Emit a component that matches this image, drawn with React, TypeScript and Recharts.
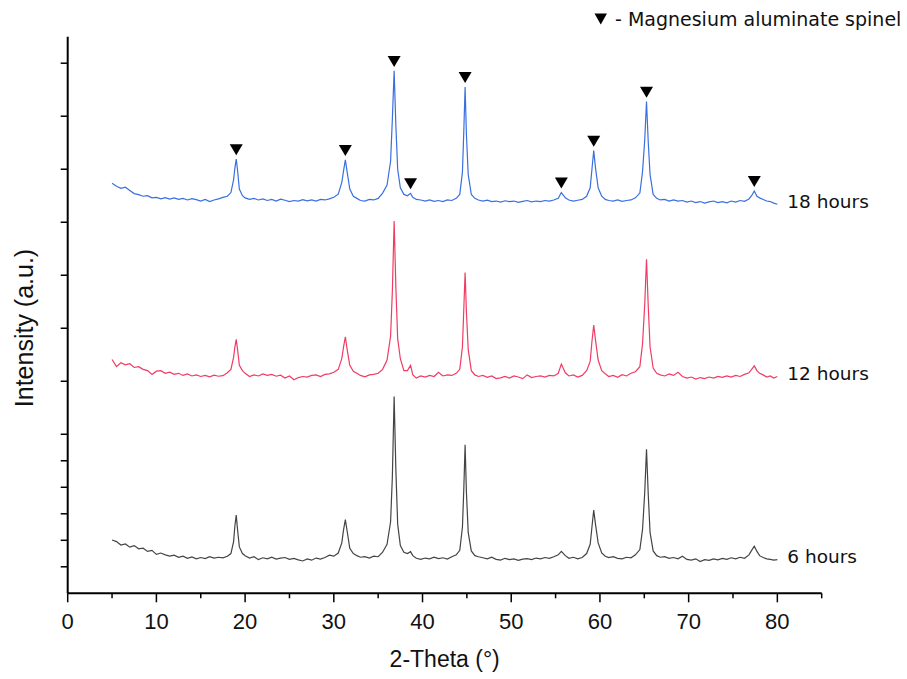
import React from 'react';
import { ComposedChart, Line, Scatter, XAxis, YAxis, LabelList } from 'recharts';

// 2-theta sampling (denser around the reflections)
const twoTheta = [
  5.0, 5.5, 6.0, 6.5, 7.0, 7.5, 8.0, 8.5, 9.0, 9.5, 10.0, 10.5, 11.0, 11.5, 12.0, 12.5, 13.0, 13.5, 14.0, 14.5, 15.0, 15.5, 16.0, 16.5, 17.0, 17.5, 18.0,
  18.4, 18.7, 18.85, 19.0, 19.15, 19.35, 19.7, 20.0,
  20.5, 21.0, 21.5, 22.0, 22.5, 23.0, 23.5, 24.0, 24.5, 25.0, 25.5, 26.0, 26.5, 27.0, 27.5, 28.0, 28.5, 29.0, 29.5, 30.0,
  30.5, 30.9, 31.1, 31.3, 31.5, 31.8, 32.2,
  32.6, 33.0, 33.5, 34.0, 34.5, 35.0, 35.5,
  36.0, 36.4, 36.6, 36.8, 37.0, 37.2, 37.5, 37.9,
  38.3, 38.65, 38.9,
  39.3, 39.8, 40.3, 40.8, 41.3, 41.8, 42.3, 42.8, 43.3, 43.8,
  44.2, 44.5, 44.65, 44.8, 44.95, 45.15, 45.5, 45.9,
  46.3, 46.8, 47.3, 47.8, 48.3, 48.8, 49.3, 49.8, 50.3, 50.8, 51.3, 51.8, 52.3, 52.8, 53.3, 53.8, 54.3, 54.8, 55.3,
  55.65, 56.1,
  56.5, 57.0, 57.5, 58.0, 58.5,
  58.9, 59.1, 59.3, 59.5, 59.8, 60.2,
  60.6, 61.0, 61.5, 62.0, 62.5, 63.0, 63.5, 64.0,
  64.5, 64.8, 65.05, 65.25, 65.45, 65.65, 66.0, 66.4,
  66.8, 67.3, 67.8, 68.3, 68.8, 69.3, 69.8, 70.3, 70.8, 71.3, 71.8, 72.3, 72.8, 73.3, 73.8, 74.3, 74.8, 75.3, 75.8, 76.3, 76.8,
  77.1, 77.4, 77.7, 78.0,
  78.4, 78.8, 79.2, 79.6, 80.0,
];

// stacked intensities (a.u., already offset)
const hours6 = [
  2.01, 1.95, 1.82, 1.86, 1.74, 1.80, 1.68, 1.70, 1.58, 1.62, 1.47, 1.52, 1.45, 1.40, 1.44, 1.36, 1.40, 1.32, 1.37, 1.30, 1.35, 1.31, 1.38, 1.33, 1.36, 1.34, 1.40,
  1.50, 1.95, 2.55, 2.95, 2.40, 1.75, 1.50, 1.42,
  1.33, 1.38, 1.27, 1.34, 1.30, 1.36, 1.29, 1.33, 1.35, 1.28, 1.32, 1.26, 1.22, 1.30, 1.25, 1.33, 1.29, 1.35, 1.44, 1.40,
  1.52, 1.90, 2.40, 2.78, 2.35, 1.70, 1.50,
  1.42, 1.36, 1.38, 1.33, 1.40, 1.38, 1.55,
  1.85, 2.70, 4.40, 7.42, 4.60, 2.60, 1.80, 1.55,
  1.50, 1.57, 1.42,
  1.32, 1.28, 1.33, 1.30, 1.36, 1.31, 1.34, 1.29, 1.38, 1.45,
  1.62, 2.50, 3.90, 5.60, 3.80, 2.30, 1.60, 1.42,
  1.38, 1.34, 1.30, 1.36, 1.28, 1.25, 1.32, 1.27, 1.30, 1.24, 1.29, 1.31, 1.27, 1.33, 1.30, 1.35, 1.32, 1.38, 1.45,
  1.58, 1.42,
  1.32, 1.36, 1.30, 1.35, 1.50,
  1.85, 2.50, 3.14, 2.60, 1.90, 1.52,
  1.40, 1.35, 1.38, 1.32, 1.30, 1.36, 1.34, 1.45,
  1.65, 2.40, 3.80, 5.43, 3.70, 2.30, 1.60, 1.42,
  1.36, 1.38, 1.32, 1.35, 1.30, 1.40, 1.28, 1.25, 1.30, 1.20, 1.27, 1.24, 1.30, 1.26, 1.32, 1.28, 1.34, 1.30, 1.36, 1.32, 1.45,
  1.62, 1.78, 1.58, 1.42,
  1.35, 1.30, 1.28, 1.25, 1.27,
];

const hours12 = [
  8.82, 8.55, 8.70, 8.62, 8.66, 8.52, 8.55, 8.45, 8.40, 8.26, 8.38, 8.40, 8.30, 8.34, 8.26, 8.30, 8.22, 8.28, 8.20, 8.24, 8.18, 8.22, 8.17, 8.23, 8.19, 8.21, 8.32,
  8.45, 8.90, 9.30, 9.58, 9.20, 8.60, 8.40, 8.30,
  8.18, 8.24, 8.20, 8.28, 8.22, 8.26, 8.19, 8.23, 8.12, 8.20, 8.06, 8.14, 8.18, 8.16, 8.22, 8.24, 8.18, 8.26, 8.28, 8.34,
  8.45, 8.85, 9.30, 9.68, 9.20, 8.60, 8.38,
  8.30, 8.22, 8.17, 8.24, 8.26, 8.30, 8.45,
  8.80, 9.70, 11.40, 14.05, 11.50, 9.60, 8.85, 8.40,
  8.40, 8.60, 8.25,
  8.12, 8.20, 8.16, 8.22, 8.18, 8.34, 8.20, 8.24, 8.22, 8.30,
  8.45, 9.30, 10.70, 12.10, 10.60, 9.20, 8.40, 8.24,
  8.18, 8.22, 8.15, 8.20, 8.10, 8.13, 8.18, 8.12, 8.20, 8.16, 8.10, 8.24, 8.14, 8.18, 8.20, 8.16, 8.22, 8.20, 8.30,
  8.65, 8.32,
  8.20, 8.24, 8.16, 8.22, 8.40,
  8.75, 9.50, 10.12, 9.55, 8.80, 8.40,
  8.28, 8.18, 8.22, 8.15, 8.25, 8.20, 8.30, 8.36,
  8.55, 9.40, 10.90, 12.60, 10.80, 9.30, 8.50, 8.30,
  8.24, 8.20, 8.28, 8.22, 8.34, 8.18, 8.12, 8.16, 8.08, 8.14, 8.10, 8.16, 8.12, 8.18, 8.15, 8.20, 8.16, 8.22, 8.18, 8.26, 8.32,
  8.45, 8.58, 8.40, 8.30,
  8.24, 8.16, 8.20, 8.12, 8.18,
];

const hours18 = [
  15.47, 15.36, 15.28, 15.32, 15.20, 15.08, 15.04, 14.98, 15.00, 14.92, 14.94, 14.88, 14.93, 14.87, 14.92, 14.86, 14.90, 14.84, 14.89, 14.85, 14.80, 14.86, 14.78, 14.84, 14.88, 14.94, 14.98,
  15.12, 15.60, 16.05, 16.38, 15.95, 15.25, 15.00, 14.92,
  14.86, 14.90, 14.84, 14.88, 14.82, 14.86, 14.80, 14.87, 14.83, 14.78, 14.82, 14.80, 14.85, 14.81, 14.84, 14.80, 14.86, 14.84, 14.88, 14.94,
  15.06, 15.50, 15.95, 16.35, 15.90, 15.25, 14.98,
  14.90, 14.82, 14.80, 14.86, 14.84, 14.90, 15.10,
  15.40, 16.30, 17.90, 19.71, 17.60, 16.00, 15.30, 15.05,
  15.00, 15.09, 14.94,
  14.86, 14.84, 14.80, 14.84, 14.79, 14.82, 14.78, 14.84, 14.82, 14.90,
  15.05, 15.90, 17.40, 19.10, 17.30, 15.80, 15.05, 14.90,
  14.84, 14.80, 14.83, 14.78, 14.80, 14.76, 14.81, 14.78, 14.80, 14.75, 14.79, 14.82, 14.77, 14.80, 14.78, 14.82, 14.80, 14.84, 14.90,
  15.12, 14.92,
  14.84, 14.80, 14.83, 14.86, 14.98,
  15.30, 16.00, 16.70, 16.05, 15.30, 14.98,
  14.86, 14.82, 14.80, 14.84, 14.79, 14.82, 14.84, 14.92,
  15.10, 15.90, 17.10, 18.55, 17.00, 15.80, 15.05, 14.90,
  14.84, 14.86, 14.80, 14.84, 14.80, 14.82, 14.76, 14.80, 14.74, 14.78, 14.72, 14.77, 14.80, 14.74, 14.78, 14.73, 14.80, 14.76, 14.82, 14.79, 14.88,
  15.00, 15.18, 14.98, 14.92,
  14.86, 14.80, 14.78, 14.72, 14.68,
];

// spinel reflections marked on the 18 h pattern
const spinelPeaks = [19.0, 31.3, 36.8, 38.65, 44.8, 55.65, 59.3, 65.25, 77.4];
const spinelHeights = [16.38, 16.35, 19.71, 15.09, 19.1, 15.12, 16.7, 18.55, 15.18];

const xTicks = [0, 5, 10, 15, 20, 25, 30, 35, 40, 45, 50, 55, 60, 65, 70, 75, 80, 85];
const yTicks = [1, 2, 3, 4, 5, 6, 8, 10, 12, 14, 16, 18, 20];

const rows = twoTheta.map((x, i) => ({ x, h6: hours6[i], h12: hours12[i], h18: hours18[i] }));
const markers = spinelPeaks.map((x, i) => ({ x, y: spinelHeights[i] }));

const axisFont = '"Liberation Sans", Arial, sans-serif';
const noteFont = '"DejaVu Sans", sans-serif';

const XTick = (props: any) => {
  const { x, y, payload } = props;
  const v = payload.value;
  const major = v % 10 === 0;
  return (
    <g>
      <line x1={x} x2={x} y1={y} y2={y + (major ? 9 : 5)} stroke="#000" strokeWidth={1.5} />
      {major && (
        <text x={x} y={y + 36} textAnchor="middle" fontSize={22} fontFamily={axisFont} fill="#111">
          {v}
        </text>
      )}
    </g>
  );
};

const YTick = (props: any) => {
  const { x, y } = props;
  return <line x1={x - 7} x2={x} y1={y} y2={y} stroke="#000" strokeWidth={1.5} />;
};

const YTitle = (props: any) => {
  const vb = props.viewBox || {};
  const cx = 24;
  const cy = (vb.y ?? 36.7) + (vb.height ?? 556.6) / 2 + 13;
  return (
    <text
      x={cx}
      y={cy}
      transform={`rotate(-90 ${cx} ${cy})`}
      textAnchor="middle"
      dominantBaseline="central"
      fontSize={25}
      fontFamily={axisFont}
      fill="#111"
    >
      Intensity (a.u.)
    </text>
  );
};

const Triangle = (props: any) => {
  const { cx, cy } = props;
  const top = cy - 15;
  return <path d={`M${cx - 6.5},${top} L${cx + 6.5},${top} L${cx},${top + 11} Z`} fill="#000" />;
};

const endLabel = (text: string) => (p: any) =>
  p.index === twoTheta.length - 1 ? (
    <text x={p.x + 10} y={p.y - 3} dominantBaseline="central" fontSize={18.5} fontFamily={noteFont} fill="#111">
      {text}
    </text>
  ) : null;

export default function App() {
  return (
    <div style={{ position: 'absolute', left: 0, top: 0, width: 907, height: 679, background: '#fff' }}>
      <ComposedChart
        width={907}
        height={679}
        data={rows}
        margin={{ top: 36.7, right: 85.3, left: 0, bottom: 0 }}
      >
        <XAxis
          dataKey="x"
          type="number"
          domain={[0, 85]}
          ticks={xTicks}
          interval={0}
          tickSize={0}
          tickMargin={0}
          tick={<XTick />}
          height={85.7}
          axisLine={{ stroke: '#000', strokeWidth: 2 }}
          label={{
            value: '2-Theta (°)',
            position: 'insideBottom',
            offset: 12,
            style: { fontSize: 23, fontFamily: axisFont, fill: '#111' },
          }}
        />
        <YAxis
          type="number"
          domain={[0, 21]}
          ticks={yTicks}
          interval={0}
          allowDataOverflow
          tickSize={0}
          tickMargin={0}
          tick={<YTick />}
          width={67.7}
          axisLine={{ stroke: '#000', strokeWidth: 2 }}
          label={{ value: 'Intensity (a.u.)', content: <YTitle /> }}
        />
        <Line type="linear" dataKey="h6" stroke="#444444" strokeWidth={1.2} dot={false} isAnimationActive={false}>
          <LabelList dataKey="h6" content={endLabel('6 hours')} />
        </Line>
        <Line type="linear" dataKey="h12" stroke="#f03c64" strokeWidth={1.2} dot={false} isAnimationActive={false}>
          <LabelList dataKey="h12" content={endLabel('12 hours')} />
        </Line>
        <Line type="linear" dataKey="h18" stroke="#3a6fe0" strokeWidth={1.2} dot={false} isAnimationActive={false}>
          <LabelList dataKey="h18" content={endLabel('18 hours')} />
        </Line>
        <Scatter data={markers} dataKey="y" shape={<Triangle />} isAnimationActive={false} />
      </ComposedChart>
      <div
        style={{
          position: 'absolute',
          left: 594,
          top: 8,
          display: 'flex',
          alignItems: 'center',
          fontFamily: noteFont,
          fontSize: 19,
          color: '#111',
          whiteSpace: 'nowrap',
        }}
      >
        <svg width={14} height={12} style={{ marginRight: 7 }}>
          <path d="M0.5,0.5 L13,0.5 L6.75,11.5 Z" fill="#000" />
        </svg>
        <span>- Magnesium aluminate spinel</span>
      </div>
    </div>
  );
}
